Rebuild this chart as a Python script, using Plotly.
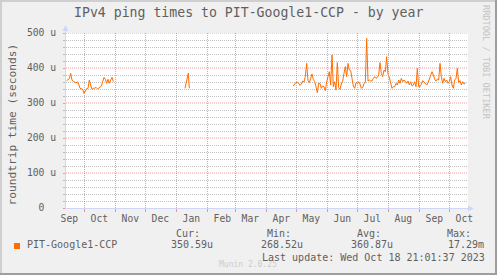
import plotly.graph_objects as go
import pandas as pd

# ---------------- data (values in microseconds) ----------------
seg1_start = "2022-09-13 09:00"
seg1_vals = [363.8, 366.7, 369.5, 384.8, 365.7, 361.9, 360.0, 357.1, 360.9, 354.3,
             341.9, 341.0, 339.0, 327.6, 335.2, 341.0, 341.9, 365.7, 351.4, 339.0,
             341.9, 341.9, 344.8, 341.0, 341.9, 344.8, 348.6, 360.9, 373.3, 367.6,
             356.2, 367.6, 356.2, 365.7, 373.3, 360.9]

seg2_dates = ["2023-01-09 17:00", "2023-01-11 08:00", "2023-01-13 00:00", "2023-01-14 00:00"]
seg2_vals = [342.0, 360.0, 385.0, 342.0]

seg3_start = "2023-04-28 01:00"
seg3_vals = [348.6, 354.3, 359.0, 359.0, 356.2, 350.5, 354.3, 362.9, 360.0, 375.2,
             413.3, 363.8, 358.1, 370.5, 382.9, 367.6, 360.9, 346.7, 329.5, 356.2,
             356.2, 341.9, 348.6, 346.7, 335.2, 360.9, 377.1, 389.5, 351.4, 437.1,
             346.7, 360.9, 337.1, 415.2, 343.8, 339.0, 354.3, 362.9, 384.8, 403.8,
             375.2, 413.3, 394.3, 392.4, 370.5, 348.6, 341.9, 358.1, 356.2, 360.9,
             354.3, 341.9, 343.8, 356.2, 358.1, 484.8, 362.9, 365.7, 362.9, 362.9,
             370.5, 375.2, 370.5, 373.3, 380.0, 415.2, 384.8, 375.2, 394.3, 389.5,
             432.4, 381.9, 373.3, 354.3, 341.9, 346.7, 346.7, 356.2, 351.4, 365.7,
             356.2, 370.5, 360.9, 365.7, 360.9, 356.2, 362.9, 351.4, 360.9, 348.6,
             351.4, 360.9, 346.7, 399.0, 346.7, 346.7, 353.3, 363.8, 360.0, 356.2,
             351.4, 358.1, 367.6, 377.1, 389.5, 380.0, 367.6, 362.9, 368.6, 365.7,
             413.3, 375.2, 356.2, 370.5, 360.9, 365.7, 356.2, 360.9, 375.2, 351.4,
             341.9, 365.7, 370.5, 399.0, 358.1, 363.8, 351.4, 360.9, 354.3, 356.2]
sample_step = "32h"

series_name = "PIT-Google1-CCP"
stat_cur, stat_min, stat_avg, stat_max = "350.59u", "268.52u", "360.87u", "17.29m"
last_update = "Last update: Wed Oct 18 21:01:37 2023"

x_range = ["2022-09-12 16:48", "2023-10-19 16:48"]
month_starts = ["2022-10-01", "2022-11-01", "2022-12-01", "2023-01-01", "2023-02-01",
                "2023-03-01", "2023-04-01", "2023-05-01", "2023-06-01", "2023-07-01",
                "2023-08-01", "2023-09-01", "2023-10-01"]
month_label_pos = ["2022-09-16", "2022-10-16", "2022-11-16", "2022-12-16", "2023-01-16",
                   "2023-02-16", "2023-03-16", "2023-04-16", "2023-05-16", "2023-06-16",
                   "2023-07-16", "2023-08-16", "2023-09-16", "2023-10-16"]
month_labels = ["Sep", "Oct", "Nov", "Dec", "Jan", "Feb", "Mar", "Apr", "May", "Jun",
                "Jul", "Aug", "Sep", "Oct"]
y_ticks = [0, 100, 200, 300, 400, 500]
y_ticktext = ["0\u00a0\u00a0", "100 u", "200 u", "300 u", "400 u", "500 u"]
y_minor_ticks = [20, 40, 60, 80, 120, 140, 160, 180, 220, 240, 260, 280,
                 320, 340, 360, 380, 420, 440, 460, 480]

# ---------------- build series ----------------
d1 = list(pd.date_range(seg1_start, periods=len(seg1_vals), freq=sample_step))
d2 = list(pd.to_datetime(seg2_dates))
d3 = list(pd.date_range(seg3_start, periods=len(seg3_vals), freq=sample_step))
xs = d1 + [None] + d2 + [None] + d3
ys = seg1_vals + [None] + seg2_vals + [None] + seg3_vals

# ---------------- layout geometry ----------------
W, H = 497, 275
L, R, T, B = 66, 29, 33, 67
PW, PH = W - L - R, H - T - B
MONO = "DejaVu Sans Mono"
FONTC = "#606060"
LINEC = "#ff6d00"
AXISC = "#CFD6F8"
MGRID = "rgba(222,79,79,0.55)"
GRID = "rgba(143,143,143,0.55)"


def px(x):
    return (x - L) / PW


def py(y):
    return (T + PH - y) / PH


fig = go.Figure()
fig.add_trace(go.Scatter(x=xs, y=ys, mode="lines", connectgaps=False,
                         line=dict(color=LINEC, width=1), showlegend=False,
                         hoverinfo="skip"))

fig.update_layout(
    width=W, height=H, autosize=False,
    margin=dict(l=L, r=R, t=T, b=B, pad=0),
    paper_bgcolor="#F0F0F0", plot_bgcolor="#FFFFFF",
    showlegend=False,
    font=dict(family=MONO, color=FONTC, size=10),
)

fig.update_xaxes(
    type="date", range=x_range, fixedrange=True,
    tickmode="array", tickvals=month_label_pos, ticktext=month_labels,
    ticks="", showgrid=False, zeroline=False,
    tickfont=dict(family=MONO, size=9.7, color=FONTC),
    ticklabelstandoff=1,
    showline=True, linecolor=AXISC, linewidth=1,
    minor=dict(tickmode="array", tickvals=month_starts, ticks="outside",
               ticklen=3, tickcolor=MGRID, showgrid=True, gridcolor=MGRID,
               griddash="1px,1px", gridwidth=1),
)
fig.update_yaxes(
    range=[0, 500], fixedrange=True,
    tickmode="array", tickvals=y_ticks, ticktext=y_ticktext,
    ticks="outside", ticklen=2, tickcolor=MGRID,
    showgrid=False, zeroline=False,
    tickfont=dict(family=MONO, size=9.7, color=FONTC),
    ticklabelstandoff=5,
    showline=True, linecolor=AXISC, linewidth=1,
    minor=dict(tickmode="array", tickvals=y_minor_ticks, ticks="outside", ticklen=2,
               tickcolor=GRID, showgrid=True, gridcolor=GRID,
               griddash="1px,1px", gridwidth=1),
)

shapes = []
# major horizontal grid (dotted)
for v in y_ticks[1:]:
    shapes.append(dict(type="line", xref="paper", yref="y", x0=0, x1=1, y0=v, y1=v,
                       line=dict(color=MGRID, width=1, dash="1px,1px"), layer="below"))
# frame shading
shapes.append(dict(type="rect", xref="paper", yref="paper", x0=px(0), x1=px(W), y0=py(0), y1=py(2),
                   fillcolor="#CFCFCF", line=dict(width=0), layer="above"))
shapes.append(dict(type="rect", xref="paper", yref="paper", x0=px(0), x1=px(2), y0=py(0), y1=py(H),
                   fillcolor="#CFCFCF", line=dict(width=0), layer="above"))
shapes.append(dict(type="rect", xref="paper", yref="paper", x0=px(W - 2), x1=px(W), y0=py(0), y1=py(H),
                   fillcolor="#9E9E9E", line=dict(width=0), layer="above"))
shapes.append(dict(type="rect", xref="paper", yref="paper", x0=px(0), x1=px(W), y0=py(H - 2), y1=py(H),
                   fillcolor="#9E9E9E", line=dict(width=0), layer="above"))
# axis arrows
shapes.append(dict(type="line", xref="paper", yref="paper", x0=px(65.5), x1=px(65.5), y0=py(33), y1=py(30),
                   line=dict(color=AXISC, width=1)))
shapes.append(dict(type="path", xref="paper", yref="paper",
                   path=f"M {px(62.5)} {py(31)} L {px(68.5)} {py(31)} L {px(65.5)} {py(25)} Z",
                   fillcolor=AXISC, line=dict(width=0)))
shapes.append(dict(type="line", xref="paper", yref="paper", x0=px(468), x1=px(470), y0=py(208.5), y1=py(208.5),
                   line=dict(color=AXISC, width=1)))
shapes.append(dict(type="path", xref="paper", yref="paper",
                   path=f"M {px(468)} {py(205.5)} L {px(468)} {py(211.5)} L {px(474)} {py(208.5)} Z",
                   fillcolor=AXISC, line=dict(width=0)))
# legend swatch
shapes.append(dict(type="rect", xref="paper", yref="paper", x0=px(14), x1=px(20), y0=py(249), y1=py(243),
                   fillcolor=LINEC, line=dict(width=0)))
fig.update_layout(shapes=shapes)


def ann(text, x, y, size=10, xanchor="left", color=FONTC, angle=0):
    fig.add_annotation(text=text, xref="paper", yref="paper", x=px(x), y=py(y),
                       xanchor=xanchor, yanchor="middle", showarrow=False,
                       textangle=angle, borderpad=0,
                       font=dict(family=MONO, size=size, color=color))


ann("IPv4 ping times to PIT-Google1-CCP - by year", 248, 13, size=13.2, xanchor="center")
ann("roundtrip time (seconds)", 11.5, 125, size=11.2, xanchor="center", angle=-90)
ann("RRDTOOL / TOBI OETIKER", 486, 63, size=8.6, xanchor="center", color="#c4c4c4", angle=90)
ann("Munin 2.0.25", 248, 264, size=8, xanchor="center", color="#cccccc")
ann(series_name, 26, 244.5)
ann("Cur:", 175, 233.5)
ann(stat_cur, 169.5, 244.5)
ann("Min:", 265.5, 233.5)
ann(stat_min, 260, 244.5)
ann("Avg:", 356, 233.5)
ann(stat_avg, 350, 244.5)
ann("Max:", 446, 233.5)
ann(stat_max, 447, 244.5)
ann(last_update, 261, 257.5)

fig.write_html("out.html", config={"displayModeBar": False})
